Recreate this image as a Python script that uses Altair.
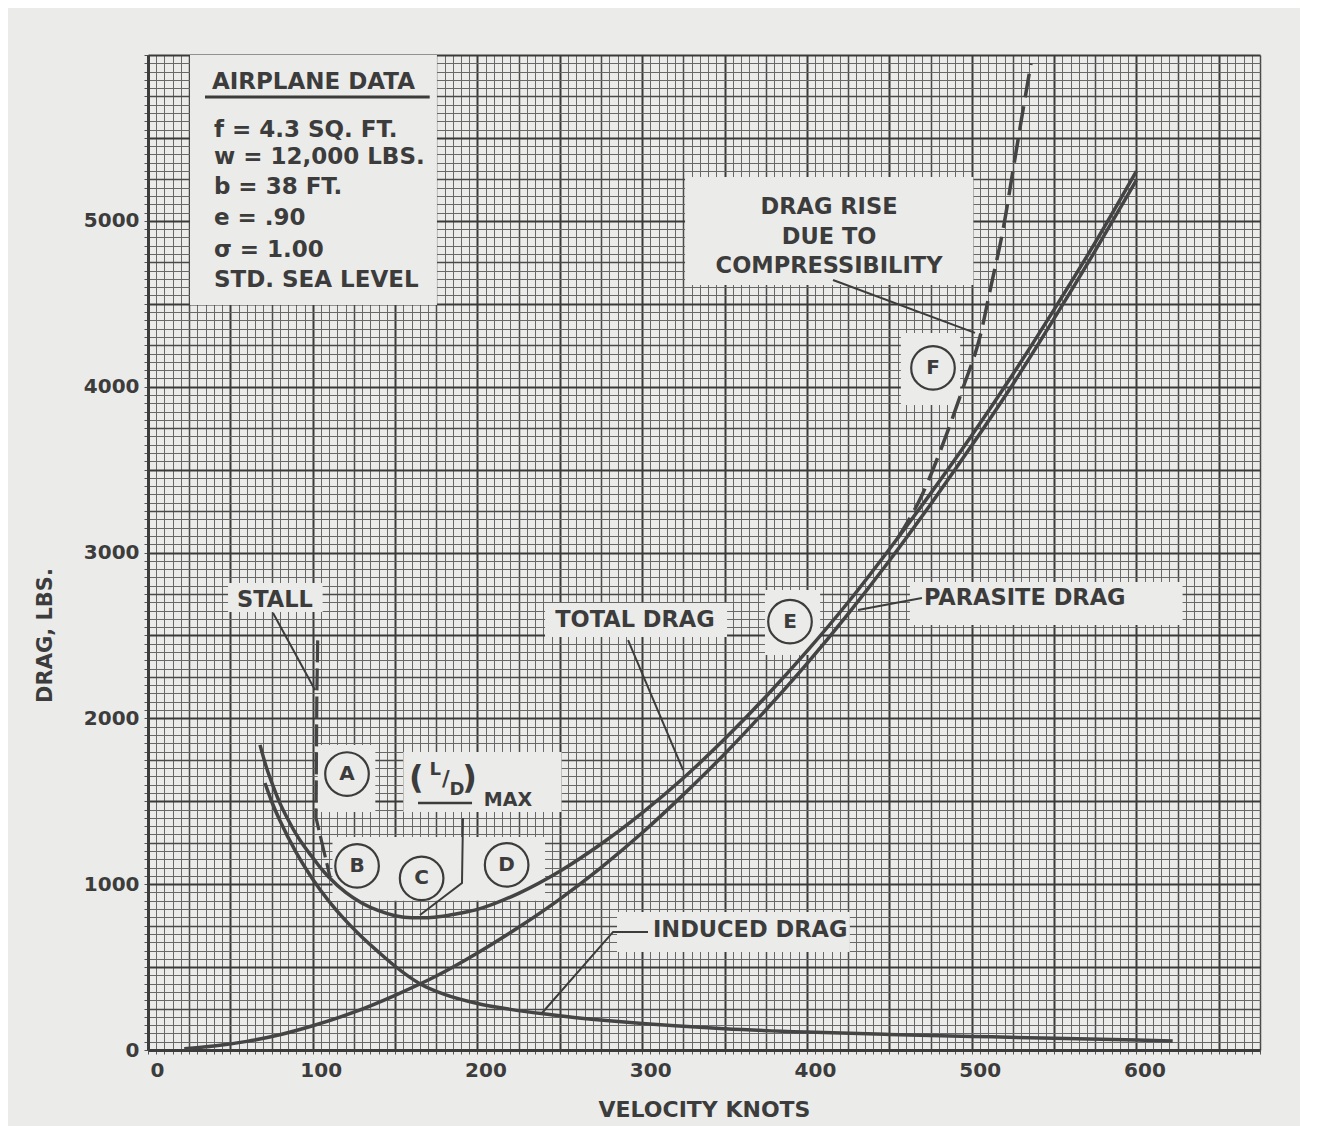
import altair as alt
import pandas as pd

PAPER = "#ebebe9"
INK = "#3c3c3c"
CURVE = "#444444"
FONT = "DejaVu Sans"

# ---------------- curves (knots, lbs) ----------------
TOTAL_V = [68, 72, 76, 80, 85, 90, 95, 100, 105, 110, 120, 130, 140, 150, 160, 170, 180, 190, 200, 225,
           250, 275, 300, 325, 350, 375, 400, 425, 450, 475, 500, 525, 550, 575, 600]
TOTAL_D = [1840, 1700, 1590, 1490, 1390, 1300, 1225, 1160, 1095, 1040, 950, 885, 840, 810, 798, 798, 808, 826, 848, 945,
           1078, 1242, 1430, 1640, 1875, 2130, 2405, 2700, 3020, 3355, 3705, 4075, 4465, 4870, 5300]

PARA_V = [22, 40, 60, 80, 100, 125, 150, 175, 200, 225, 250, 275, 300, 325, 350, 375, 400, 425, 450, 475,
          500, 525, 550, 575, 600]
PARA_D = [8, 24, 52, 92, 146, 228, 330, 446, 585, 740, 910, 1100, 1310, 1540, 1785, 2050, 2330, 2630, 2950, 3290,
          3645, 4015, 4410, 4820, 5245]

IND_V = [71, 75, 80, 90, 100, 110, 120, 130, 140, 150, 165, 180, 200, 220, 240, 260, 280, 300, 320, 350,
         400, 450, 500, 550, 600, 622]
IND_D = [1610, 1500, 1385, 1190, 1030, 895, 780, 680, 590, 505, 400, 335, 280, 245, 218, 195, 176, 160, 146, 128,
         108, 94, 82, 71, 60, 55]

COMP_V = [455, 470, 485, 495, 505, 512, 519, 525, 530, 536]
COMP_D = [3085, 3350, 3720, 4000, 4300, 4620, 4945, 5300, 5600, 5950]

STALL_V = [103, 102.5, 102, 110.5]
STALL_D = [2470, 2150, 1400, 1043]

# ---------------- axes ----------------
X_GRID = list(range(0, 680, 5))
Y_GRID = list(range(0, 6050, 50))
X_LABELS = [0, 100, 200, 300, 400, 500, 600]
Y_LABELS = [0, 1000, 2000, 3000, 4000, 5000]

# ---------------- annotations (data coordinates) ----------------
PATCH_V1 = [25.5, 326, 457, 48.6, 103, 155, 112, 241, 374.5, 462.5, 284.7]
PATCH_V2 = [175.4, 501, 493, 106, 138, 251, 241, 351.5, 408, 628, 426]
PATCH_D1 = [4493, 4613, 3890, 2641, 1435, 1435, 900, 2490, 2382, 2563, 591]
PATCH_D2 = [6000, 5264, 4324, 2816, 1839, 1797, 1284, 2696, 2774, 2822, 832]

BOX_TEXT = ["AIRPLANE DATA", "f = 4.3 SQ. FT.", "w = 12,000 LBS.", "b = 38 FT.", "e = .90", "σ = 1.00", "STD. SEA LEVEL"]
BOX_V = [38.8, 40.0, 40.0, 40.0, 40.0, 40.0, 40.0]
BOX_D = [5837, 5548, 5385, 5204, 5017, 4824, 4643]

CENTER_TEXT = ["DRAG RISE", "DUE TO", "COMPRESSIBILITY", "STALL", "TOTAL DRAG"]
CENTER_V = [413.4, 413.4, 413.4, 77.1, 295.6]
CENTER_D = [5083, 4903, 4728, 2714, 2593]

LEFT_TEXT = ["PARASITE DRAG", "INDUCED DRAG"]
LEFT_V = [471, 306.5]
LEFT_D = [2726, 724]

CIRCLE_TEXT = ["A", "B", "C", "D", "E", "F"]
CIRCLE_V = [120.8, 126.9, 166.1, 217.7, 389.7, 476.5]
CIRCLE_D = [1664, 1110, 1035, 1116, 2583, 4113]

LD_TEXT = ["(", "L", "/", "D", ")"]
LD_V = [162.8, 174.3, 180.8, 187.6, 195.2]
LD_D = [1640, 1690, 1628, 1565, 1640]
LD_SIZE = [32, 18, 21, 18, 32]
MAX_TEXT = ["MAX"]
MAX_V = [218.5]
MAX_D = [1508]

UNDER_V1 = [34.6, 163.9]
UNDER_V2 = [171.0, 196.7]
UNDER_D = [5747, 1489]
UNDER_W = [3, 2.5]

LEADER_SEG = [1, 1, 2, 2, 3, 3, 3, 4, 4, 5, 5, 6, 6, 6]
LEADER_ORD = [0, 1, 0, 1, 0, 1, 2, 0, 1, 0, 1, 0, 1, 2]
LEADER_V = [415.8, 502, 75.9, 101.4, 191.2, 190.6, 165.1, 291.4, 324.8, 469.8, 431, 303.5, 282.3, 239.2]
LEADER_D = [4643, 4324, 2635, 2171, 1399, 1007, 814, 2472, 1688, 2726, 2653, 712, 712, 223]

# ---------------- build ----------------
xs = alt.Scale(domain=[0, 675], nice=False, zero=False)
ys = alt.Scale(domain=[0, 6000], nice=False, zero=False)

grid_color = {"condition": [{"test": "datum.value % 50 === 0", "value": "#3a3a3a"},
                            {"test": "datum.value % 25 === 0", "value": "#4a4a4a"}],
              "value": "#686868"}
grid_width = {"condition": [{"test": "datum.value % 50 === 0", "value": 2},
                            {"test": "datum.value % 25 === 0", "value": 1.5}],
              "value": 1}
ygrid_color = {"condition": [{"test": "datum.value % 500 === 0", "value": "#3a3a3a"},
                             {"test": "datum.value % 250 === 0", "value": "#4a4a4a"}],
               "value": "#686868"}
ygrid_width = {"condition": [{"test": "datum.value % 500 === 0", "value": 2},
                             {"test": "datum.value % 250 === 0", "value": 1.5}],
               "value": 1}
x_label_offset = {"condition": {"test": "datum.value === 0", "value": 2}, "value": 8}

x_axis = alt.Axis(
    values=X_GRID, format="d", title="VELOCITY KNOTS",
    labelExpr="indexof(%s, datum.value) >= 0 ? datum.label : ''" % str(X_LABELS),
    labelOverlap=False, labelFont=FONT, labelFontSize=20, labelFontWeight="bold", labelColor=INK,
    labelPadding=6, labelOffset=x_label_offset,
    grid=True, gridColor=grid_color, gridWidth=grid_width, gridOpacity=1,
    ticks=True, tickSize=4, tickColor="#555555", tickWidth=1,
    domain=True, domainColor=INK, domainWidth=3,
    titleFont=FONT, titleFontSize=22, titleFontWeight="bold", titleColor=INK,
    titleX=556, titleY=59, titleAlign="center", titleBaseline="middle",
)
y_axis = alt.Axis(
    values=Y_GRID, format="d", title="DRAG, LBS.",
    labelExpr="indexof(%s, datum.value) >= 0 ? datum.label : ''" % str(Y_LABELS),
    labelOverlap=False, labelFont=FONT, labelFontSize=20, labelFontWeight="bold", labelColor=INK,
    labelPadding=5,
    grid=True, gridColor=ygrid_color, gridWidth=ygrid_width, gridOpacity=1,
    ticks=True, tickSize=4, tickColor="#555555", tickWidth=1,
    domain=True, domainColor=INK, domainWidth=3,
    titleFont=FONT, titleFontSize=21, titleFontWeight="bold", titleColor=INK,
    titleX=-103, titleY=580, titleAngle=270, titleAlign="center", titleBaseline="middle",
)

X = alt.X("v:Q", scale=xs, axis=x_axis)
Y = alt.Y("d:Q", scale=ys, axis=y_axis)

patches = pd.DataFrame({"v": PATCH_V1, "v2": PATCH_V2, "d": PATCH_D1, "d2": PATCH_D2})
patch_layer = alt.Chart(patches).mark_rect(color=PAPER, opacity=1).encode(
    x=X, x2="v2:Q", y=Y, y2="d2:Q")


def curve(vs, ds, dash=None, width=3.5):
    df = pd.DataFrame({"v": vs, "d": ds})
    kw = dict(color=CURVE, strokeWidth=width, interpolate="monotone", clip=True)
    if dash:
        kw["strokeDash"] = dash
    return alt.Chart(df).mark_line(**kw).encode(x=X, y=Y, order=alt.Order("v:Q"))


total_layer = curve(TOTAL_V, TOTAL_D)
para_layer = curve(PARA_V, PARA_D)
ind_layer = curve(IND_V, IND_D)
comp_layer = curve(COMP_V, COMP_D, dash=[24, 9], width=3.5)

stall_df = pd.DataFrame({"v": STALL_V, "d": STALL_D, "o": list(range(len(STALL_V)))})
stall_layer = alt.Chart(stall_df).mark_line(color=CURVE, strokeWidth=3.2, strokeDash=[22, 6]).encode(
    x=X, y=Y, order="o:Q")

leaders = pd.DataFrame({"seg": LEADER_SEG, "o": LEADER_ORD, "v": LEADER_V, "d": LEADER_D})
leader_layer = alt.Chart(leaders).mark_line(color=INK, strokeWidth=2).encode(
    x=X, y=Y, detail="seg:N", order="o:Q")

under = pd.DataFrame({"v": UNDER_V1, "v2": UNDER_V2, "d": UNDER_D, "w": UNDER_W})
under_layer = alt.Chart(under).mark_rule(color=INK).encode(
    x=X, x2="v2:Q", y=Y, strokeWidth=alt.StrokeWidth("w:Q", scale=None))

circ = pd.DataFrame({"v": CIRCLE_V, "d": CIRCLE_D, "t": CIRCLE_TEXT})
circle_layer = alt.Chart(circ).mark_point(shape="circle", filled=False, size=1900, color=INK,
                                          strokeWidth=2.2, opacity=1).encode(x=X, y=Y)
circle_text = alt.Chart(circ).mark_text(font=FONT, fontSize=20, fontWeight="bold", color=INK,
                                        align="center", baseline="middle").encode(x=X, y=Y, text="t:N")

box = pd.DataFrame({"v": BOX_V, "d": BOX_D, "t": BOX_TEXT})
box_text = alt.Chart(box).mark_text(font=FONT, fontSize=23, fontWeight="bold", color=INK,
                                    align="left", baseline="middle").encode(x=X, y=Y, text="t:N")

cen = pd.DataFrame({"v": CENTER_V, "d": CENTER_D, "t": CENTER_TEXT})
center_text = alt.Chart(cen).mark_text(font=FONT, fontSize=22.5, fontWeight="bold", color=INK,
                                       align="center", baseline="middle").encode(x=X, y=Y, text="t:N")

lef = pd.DataFrame({"v": LEFT_V, "d": LEFT_D, "t": LEFT_TEXT})
left_text = alt.Chart(lef).mark_text(font=FONT, fontSize=22.5, fontWeight="bold", color=INK,
                                     align="left", baseline="middle").encode(x=X, y=Y, text="t:N")

ld = pd.DataFrame({"v": LD_V, "d": LD_D, "t": LD_TEXT, "s": LD_SIZE})
ld_text = alt.Chart(ld).mark_text(font=FONT, fontWeight="bold", color=INK,
                                  align="center", baseline="middle").encode(
    x=X, y=Y, text="t:N", size=alt.Size("s:Q", scale=None))

mx = pd.DataFrame({"v": MAX_V, "d": MAX_D, "t": MAX_TEXT})
max_text = alt.Chart(mx).mark_text(font=FONT, fontSize=19, fontWeight="bold", color=INK,
                                   align="center", baseline="middle").encode(x=X, y=Y, text="t:N")

chart = alt.layer(
    patch_layer, total_layer, para_layer, ind_layer, comp_layer, stall_layer,
    leader_layer, under_layer, circle_layer, circle_text, box_text, center_text,
    left_text, ld_text, max_text,
).properties(
    width=1112, height=995,
    autosize=alt.AutoSizeParams(type="none"),
    padding={"left": 140, "top": 47, "right": 40, "bottom": 76},
    background=PAPER,
).configure_view(stroke=None)

chart.save("out.html", embed_options={"renderer": "svg", "actions": False})
